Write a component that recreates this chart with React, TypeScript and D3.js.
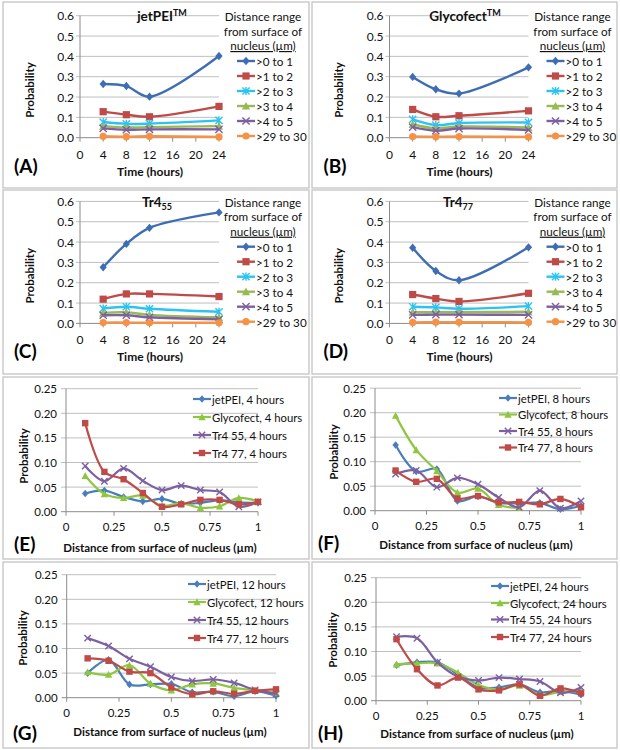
import React from "react";
import * as d3 from "d3";

// ---- top panels: probability vs time, one row per distance range ----
const hours = [4, 8, 12, 24];
const hourTicks = [0, 4, 8, 12, 16, 20, 24];
const probTicksTop = [0, 0.1, 0.2, 0.3, 0.4, 0.5, 0.6];
const rangeLabels = [">0 to 1", ">1 to 2", ">2 to 3", ">3 to 4", ">4 to 5", ">29 to 30"];

const jetPEIByRange = [
  [0.264, 0.254, 0.202, 0.402],
  [0.128, 0.113, 0.103, 0.154],
  [0.077, 0.068, 0.069, 0.085],
  [0.057, 0.050, 0.052, 0.057],
  [0.046, 0.039, 0.041, 0.041],
  [0.007, 0.005, 0.007, 0.004],
];
const glycofectByRange = [
  [0.299, 0.238, 0.217, 0.346],
  [0.139, 0.103, 0.108, 0.132],
  [0.090, 0.062, 0.072, 0.075],
  [0.066, 0.046, 0.055, 0.050],
  [0.052, 0.035, 0.045, 0.038],
  [0.006, 0.005, 0.006, 0.004],
];
const tr455ByRange = [
  [0.276, 0.391, 0.470, 0.546],
  [0.119, 0.145, 0.145, 0.132],
  [0.073, 0.082, 0.072, 0.057],
  [0.052, 0.054, 0.042, 0.030],
  [0.040, 0.040, 0.030, 0.020],
  [0.004, 0.004, 0.003, 0.003],
];
const tr477ByRange = [
  [0.372, 0.258, 0.212, 0.374],
  [0.142, 0.122, 0.108, 0.148],
  [0.082, 0.079, 0.072, 0.085],
  [0.055, 0.055, 0.055, 0.057],
  [0.042, 0.043, 0.043, 0.042],
  [0.005, 0.006, 0.006, 0.005],
];

// ---- bottom panels: probability vs distance ----
const distances = [0.1, 0.2, 0.3, 0.4, 0.5, 0.6, 0.7, 0.8, 0.9, 1.0];
const distTicks = [0, 0.25, 0.5, 0.75, 1];
const probTicksBottom = [0, 0.05, 0.1, 0.15, 0.2, 0.25];
const carriers = ["jetPEI", "Glycofect", "Tr4 55", "Tr4 77"];

const jetPEI4h = [0.037, 0.043, 0.030, 0.021, 0.026, 0.016, 0.018, 0.023, 0.019, 0.018];
const glycofect4h = [0.073, 0.036, 0.028, 0.033, 0.012, 0.017, 0.008, 0.011, 0.028, 0.021];
const tr455_4h = [0.093, 0.062, 0.088, 0.063, 0.044, 0.053, 0.044, 0.040, 0.010, 0.020];
const tr477_4h = [0.180, 0.081, 0.066, 0.038, 0.010, 0.015, 0.024, 0.024, 0.015, 0.020];

const jetPEI8h = [0.134, 0.080, 0.085, 0.020, 0.029, 0.016, 0.015, 0.016, 0.003, 0.010];
const glycofect8h = [0.194, 0.124, 0.081, 0.037, 0.045, 0.012, 0.006, null, null, null];
const tr455_8h = [0.075, 0.082, 0.048, 0.067, 0.054, 0.027, 0.007, 0.041, 0.005, 0.020];
const tr477_8h = [0.082, 0.059, 0.065, 0.025, 0.030, 0.017, 0.018, 0.013, 0.024, 0.007];

const jetPEI12h = [0.050, 0.077, 0.027, 0.027, 0.028, 0.011, 0.012, 0.003, 0.013, 0.004];
const glycofect12h = [0.052, 0.047, 0.066, 0.029, 0.015, 0.027, 0.029, 0.020, 0.015, 0.010];
const tr455_12h = [0.121, 0.105, 0.079, 0.063, 0.042, 0.034, 0.037, 0.030, 0.016, 0.008];
const tr477_12h = [0.080, 0.075, 0.053, 0.050, 0.021, 0.007, 0.013, 0.008, 0.014, 0.017];

const jetPEI24h = [0.072, 0.078, 0.078, 0.053, 0.027, 0.027, 0.033, 0.017, 0.020, 0.012];
const glycofect24h = [0.074, 0.076, 0.076, 0.057, 0.032, 0.023, 0.031, 0.012, 0.018, 0.020];
const tr455_24h = [0.130, 0.127, 0.078, 0.049, 0.041, 0.047, 0.044, 0.039, 0.016, 0.027];
const tr477_24h = [0.125, 0.064, 0.031, 0.047, 0.023, 0.021, 0.033, 0.010, 0.025, 0.015];

const FONT = "Lato, 'Open Sans', sans-serif";
const GRID = "#bfbfbf";
const AXIS = "#8c8c8c";
const INK = "#111";

const rangeStyles = [
  { color: "#3e6db4", shape: "diamond" },
  { color: "#be4b48", shape: "square" },
  { color: "#2cc3f2", shape: "star" },
  { color: "#98b954", shape: "triangle" },
  { color: "#7d60a0", shape: "cross" },
  { color: "#f59245", shape: "circle" },
];
const carrierStyles = [
  { color: "#4a7ebb", shape: "diamond" },
  { color: "#8fc640", shape: "triangle" },
  { color: "#7d60a0", shape: "cross" },
  { color: "#be4b48", shape: "square" },
];

function Marker({ shape, x, y, color, s = 3.6 }) {
  if (shape === "diamond")
    return <path d={`M${x},${y - s - 0.6}L${x + s},${y}L${x},${y + s + 0.6}L${x - s},${y}Z`} fill={color} />;
  if (shape === "square")
    return <rect x={x - s} y={y - s} width={s * 2} height={s * 2} fill={color} />;
  if (shape === "triangle")
    return <path d={`M${x},${y - s - 0.5}L${x + s + 0.5},${y + s}L${x - s - 0.5},${y + s}Z`} fill={color} />;
  if (shape === "circle") return <circle cx={x} cy={y} r={s} fill={color} />;
  if (shape === "cross")
    return (
      <path d={`M${x - s},${y - s}L${x + s},${y + s}M${x - s},${y + s}L${x + s},${y - s}`} stroke={color} strokeWidth={1.4} />
    );
  // star (asterisk)
  return (
    <path
      d={`M${x - s},${y - s}L${x + s},${y + s}M${x - s},${y + s}L${x + s},${y - s}M${x},${y - s - 0.5}L${x},${y + s + 0.5}`}
      stroke={color}
      strokeWidth={1.4}
    />
  );
}

const topPanels = [
  { label: "(A)", ox: 0, oy: 0, values: jetPEIByRange, title: "jetPEI", sup: "TM", titleX: 162 },
  { label: "(B)", ox: 309.5, oy: 0, values: glycofectByRange, title: "Glycofect", sup: "TM", titleX: 155.5 },
  { label: "(C)", ox: 0, oy: 185.7, values: tr455ByRange, title: "Tr4", sub: "55", titleX: 157 },
  { label: "(D)", ox: 309.5, oy: 185.7, values: tr477ByRange, title: "Tr4", sub: "77", titleX: 148.5 },
];

function TopPanel({ p }) {
  const { ox, oy } = p;
  const x = d3.scaleLinear().domain([0, 24]).range([ox + 80, ox + 219]);
  const y = d3.scaleLinear().domain([0, 0.6]).range([oy + 137.7, oy + 15.7]);
  const line = d3
    .line<number>()
    .x((d, i) => x(hours[i]))
    .y((d) => y(d))
    .curve(d3.curveCatmullRom.alpha(0.5));
  const legX = ox + 237;
  return (
    <g fontFamily={FONT}>
      {probTicksTop.map((t) => (
        <g key={t}>
          <line x1={x(0) - 4} x2={x(24)} y1={y(t)} y2={y(t)} stroke={t === 0 ? AXIS : GRID} strokeWidth={1} />
          <text x={x(0) - 6} y={y(t)} textAnchor="end" dominantBaseline="central" fontSize={12} fill={INK}>
            {t.toFixed(1)}
          </text>
        </g>
      ))}
      <line x1={x(0)} x2={x(0)} y1={y(0)} y2={y(0.6)} stroke={AXIS} />
      {hourTicks.map((t) => (
        <g key={t}>
          <line x1={x(t)} x2={x(t)} y1={y(0)} y2={y(0) + 4} stroke={AXIS} />
          <text x={x(t)} y={y(0) + 16.5} textAnchor="middle" dominantBaseline="central" fontSize={12} fill={INK}>
            {t}
          </text>
        </g>
      ))}
      <text x={ox + 150} y={oy + 171} textAnchor="middle" dominantBaseline="central" fontSize={12} fontWeight="bold" fill={INK}>
        Time (hours)
      </text>
      <text
        transform={`translate(${ox + 29},${oy + 90}) rotate(-90)`}
        textAnchor="middle"
        dominantBaseline="central"
        fontSize={11.5}
        fontWeight="bold"
        fill={INK}
      >
        Probability
      </text>
      <text x={ox + 14} y={oy + 165} dominantBaseline="central" fontSize={19} fontWeight="bold" fill="#000">
        {p.label}
      </text>
      <text x={ox + p.titleX} y={oy + 16} textAnchor="middle" dominantBaseline="central" fontSize={13.5} fontWeight="bold" fill={INK}>
        {p.title}
        {p.sup && (
          <tspan fontSize={9} dy={-4}>
            {p.sup}
          </tspan>
        )}
        {p.sub && (
          <tspan fontSize={9} dy={4}>
            {p.sub}
          </tspan>
        )}
      </text>
      {p.values.map((vals, k) => (
        <g key={k}>
          <path d={line(vals) || ""} fill="none" stroke={rangeStyles[k].color} strokeWidth={2.4} />
          {vals.map((v, i) => (
            <Marker key={i} shape={rangeStyles[k].shape} x={x(hours[i])} y={y(v)} color={rangeStyles[k].color} />
          ))}
        </g>
      ))}
      <g fontSize={11.7} fill={INK}>
        <text x={ox + 263} y={oy + 16} textAnchor="middle" dominantBaseline="central">Distance range</text>
        <text x={ox + 263} y={oy + 30.5} textAnchor="middle" dominantBaseline="central">from surface of</text>
        <text x={ox + 263} y={oy + 45} textAnchor="middle" dominantBaseline="central" textDecoration="underline">
          nucleus (µm)
        </text>
        {rangeLabels.map((lab, k) => {
          const ly = oy + 61 + 15 * k;
          return (
            <g key={lab}>
              <line x1={legX} x2={legX + 18} y1={ly} y2={ly} stroke={rangeStyles[k].color} strokeWidth={2.4} />
              <Marker shape={rangeStyles[k].shape} x={legX + 9} y={ly} color={rangeStyles[k].color} />
              <text x={legX + 19} y={ly} dominantBaseline="central">
                {lab}
              </text>
            </g>
          );
        })}
      </g>
    </g>
  );
}

const bottomPanels = [
  {
    label: "(E)", when: "4 hours", series: [jetPEI4h, glycofect4h, tr455_4h, tr477_4h],
    x0: 66, x1: 258, y0: 511.7, y25: 388.7, legX: 193, legRows: [399, 417, 435, 453],
    xTitle: [160, 547], prob: [23, 456], lab: [14, 543],
  },
  {
    label: "(F)", when: "8 hours", series: [jetPEI8h, glycofect8h, tr455_8h, tr477_8h],
    x0: 375, x1: 581, y0: 510.7, y25: 388.2, legX: 499, legRows: [398, 414.5, 431, 447.5],
    xTitle: [476, 544], prob: [333, 452], lab: [318, 542],
  },
  {
    label: "(G)", when: "12 hours", series: [jetPEI12h, glycofect12h, tr455_12h, tr477_12h],
    x0: 66.7, x1: 276, y0: 697.7, y25: 574.7, legX: 188, legRows: [584, 602, 620, 638],
    xTitle: [170, 731], prob: [22, 638], lab: [13, 732],
  },
  {
    label: "(H)", when: "24 hours", series: [jetPEI24h, glycofect24h, tr455_24h, tr477_24h],
    x0: 376, x1: 581, y0: 700.7, y25: 577.7, legX: 491, legRows: [586, 603, 619.5, 637],
    xTitle: [477, 733], prob: [332, 640], lab: [318, 732],
  },
];

function BottomPanel({ p }) {
  const x = d3.scaleLinear().domain([0, 1]).range([p.x0, p.x1]);
  const y = d3.scaleLinear().domain([0, 0.25]).range([p.y0, p.y25]);
  const line = d3
    .line<number | null>()
    .defined((d) => d != null)
    .x((d, i) => x(distances[i]))
    .y((d) => y(d as number))
    .curve(d3.curveCatmullRom.alpha(0.5));
  return (
    <g fontFamily={FONT}>
      {probTicksBottom.map((t) => (
        <g key={t}>
          <line x1={x(0) - 5} x2={x(1)} y1={y(t)} y2={y(t)} stroke={t === 0 ? AXIS : GRID} />
          <text x={x(0) - 9} y={y(t)} textAnchor="end" dominantBaseline="central" fontSize={11.5} fill={INK}>
            {t.toFixed(2)}
          </text>
        </g>
      ))}
      <line x1={x(0)} x2={x(0)} y1={y(0)} y2={y(0.25)} stroke={AXIS} />
      {distTicks.map((t) => (
        <g key={t}>
          <line x1={x(t)} x2={x(t)} y1={y(0)} y2={y(0) + 4} stroke={AXIS} />
          <text x={x(t)} y={y(0) + 15} textAnchor="middle" dominantBaseline="central" fontSize={11.5} fill={INK}>
            {t}
          </text>
        </g>
      ))}
      <text x={p.xTitle[0]} y={p.xTitle[1]} textAnchor="middle" dominantBaseline="central" fontSize={11.5} fontWeight="bold" fill={INK}>
        Distance from surface of nucleus (µm)
      </text>
      <text
        transform={`translate(${p.prob[0]},${p.prob[1]}) rotate(-90)`}
        textAnchor="middle"
        dominantBaseline="central"
        fontSize={11.5}
        fontWeight="bold"
        fill={INK}
      >
        Probability
      </text>
      <text x={p.lab[0]} y={p.lab[1]} dominantBaseline="central" fontSize={19} fontWeight="bold" fill="#000">
        {p.label}
      </text>
      {p.series.map((vals, k) => (
        <g key={k}>
          <path d={line(vals) || ""} fill="none" stroke={carrierStyles[k].color} strokeWidth={2.2} />
          {vals.map((v, i) =>
            v == null ? null : (
              <Marker key={i} shape={carrierStyles[k].shape} x={x(distances[i])} y={y(v)} color={carrierStyles[k].color} s={3.2} />
            )
          )}
        </g>
      ))}
      <g fontSize={11.3} fill={INK}>
        {carriers.map((c, k) => {
          const ly = p.legRows[k];
          return (
            <g key={c}>
              <line x1={p.legX} x2={p.legX + 18} y1={ly} y2={ly} stroke={carrierStyles[k].color} strokeWidth={2.2} />
              <Marker shape={carrierStyles[k].shape} x={p.legX + 9} y={ly} color={carrierStyles[k].color} s={3.2} />
              <text x={p.legX + 19} y={ly} dominantBaseline="central">
                {`${c}, ${p.when}`}
              </text>
            </g>
          );
        })}
      </g>
    </g>
  );
}

const frames = [
  [3, 2, 306, 186], [312, 2, 305, 186],
  [3, 190, 306, 184], [312, 190, 305, 184],
  [3, 377, 306, 182], [312, 377, 305, 182],
  [3, 562, 306, 186], [312, 562, 305, 186],
];

export default function App() {
  return (
    <div style={{ position: "absolute", left: 0, top: 0, background: "#fff" }}>
      <svg width={620} height={750} style={{ display: "block" }}>
        <rect width={620} height={750} fill="#fff" />
        {frames.map(([fx, fy, fw, fh], i) => (
          <rect key={i} x={fx} y={fy} width={fw} height={fh} fill="none" stroke="#c4c4c4" strokeWidth={1.3} />
        ))}
        {topPanels.map((p) => (
          <TopPanel key={p.label} p={p} />
        ))}
        {bottomPanels.map((p) => (
          <BottomPanel key={p.label} p={p} />
        ))}
      </svg>
    </div>
  );
}
